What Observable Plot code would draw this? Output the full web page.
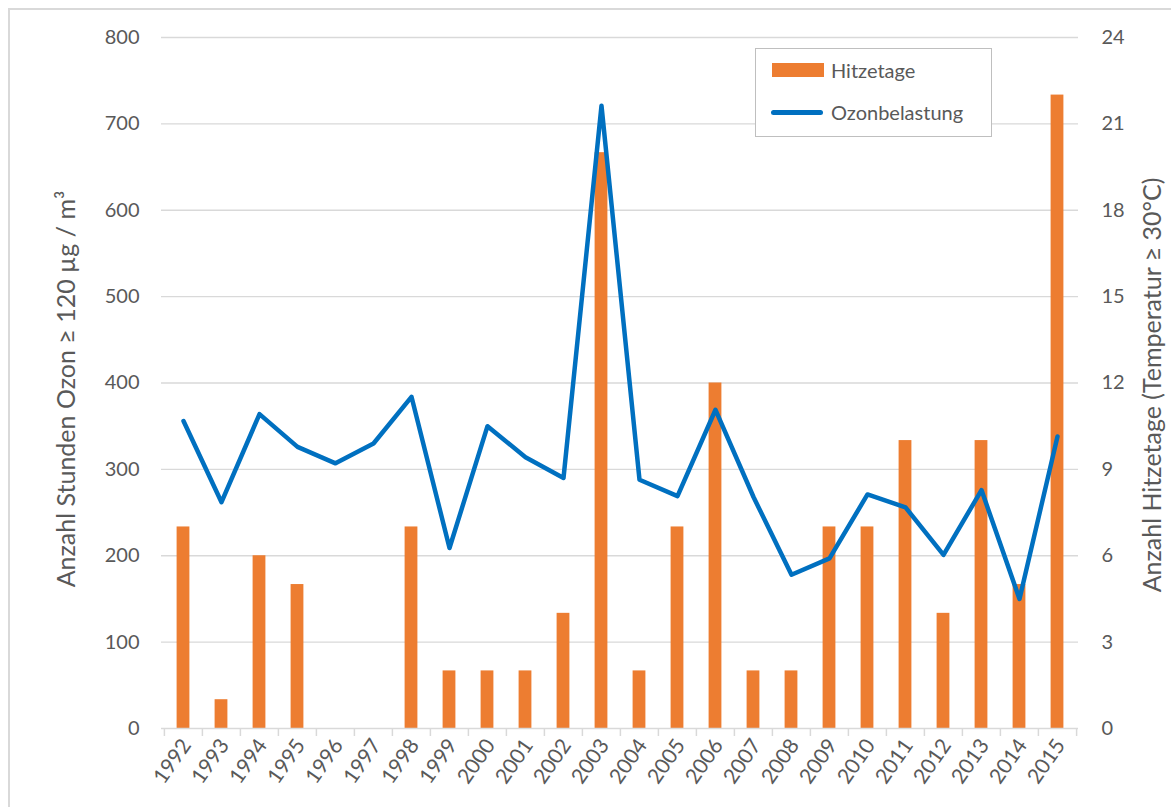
<!DOCTYPE html>
<html>
<head>
<meta charset="utf-8">
<script src="https://cdn.jsdelivr.net/npm/d3@7"></script>
<script src="https://cdn.jsdelivr.net/npm/@observablehq/plot@0.6"></script>
<style>
  html, body { margin: 0; padding: 0; background: #fff; }
  #wrap { position: relative; width: 1171px; height: 807px; overflow: hidden; font-family: Lato, "Open Sans", sans-serif; color: #595959; }
  #frame { position: absolute; left: 8px; top: 8px; width: 1200px; height: 900px; border: 2px solid #d9d9d9; box-sizing: border-box; pointer-events: none; }
  #legend { position: absolute; left: 755px; top: 48px; width: 237px; height: 89px; border: 1px solid #bfbfbf; background: #fff; box-sizing: border-box; }
  .lg-item { position: absolute; left: 0; display: flex; align-items: center; font-size: 20px; }
  .sw-bar { width: 52px; height: 14px; background: #ED7D31; margin-left: 16px; margin-right: 7px; }
  .sw-line { width: 52px; height: 5px; background: #0070C0; border-radius: 3px; margin-left: 15px; margin-right: 8px; }
</style>
</head>
<body>
<div id="wrap">
  <div id="chart"></div>
  <div id="frame"></div>
  <div id="legend">
    <div class="lg-item" style="top:9px"><div class="sw-bar"></div><span>Hitzetage</span></div>
    <div class="lg-item" style="top:51px"><div class="sw-line"></div><span>Ozonbelastung</span></div>
  </div>
</div>
<script>
const years = ["1992","1993","1994","1995","1996","1997","1998","1999","2000","2001","2002","2003","2004","2005","2006","2007","2008","2009","2010","2011","2012","2013","2014","2015"];
const hitzetage = [7, 1, 6, 5, 0, 0, 7, 2, 2, 2, 4, 20, 2, 7, 12, 2, 2, 7, 7, 10, 4, 10, 5, 22];
const ozonStunden = [356, 262, 364, 326, 307, 330, 384, 209, 350, 314, 290, 721, 288, 269, 369, 268, 178, 197, 271, 256, 201, 276, 150, 338];
const leftTicks = [0, 100, 200, 300, 400, 500, 600, 700, 800];
const leftMax = 800, rightMax = 24;
const leftTitle = "Anzahl Stunden Ozon ≥ 120 µg / m³";
const rightTitle = "Anzahl Hitzetage (Temperatur ≥ 30°C)";

const data = years.map((y, i) => ({year: y, hitze: hitzetage[i], ozon: ozonStunden[i]}));
const toLeft = v => v * leftMax / rightMax;

const gray = "#595959";
const bw = (1171 - 161 - 93) / years.length;

const chart = Plot.plot({
  width: 1171,
  height: 807,
  marginLeft: 161,
  marginRight: 93,
  marginTop: 37,
  marginBottom: 79,
  style: {fontFamily: "Lato, 'Open Sans', sans-serif", fontSize: "20px", color: gray, background: "transparent"},
  x: {type: "band", domain: years, padding: 0},
  y: {domain: [0, leftMax]},
  marks: [
    Plot.gridY(leftTicks.slice(1), {stroke: "#d9d9d9", strokeOpacity: 1, strokeWidth: 1.3}),
    Plot.axisY({anchor: "left", ticks: leftTicks, tickSize: 0, tickPadding: 22, label: null, fill: gray}),
    Plot.axisY({anchor: "right", ticks: leftTicks, tickSize: 0, tickPadding: 23, label: null, fill: gray, tickFormat: d => String(d * rightMax / leftMax)}),
    Plot.barY(data, {x: "year", y: d => toLeft(d.hitze), fill: "#ED7D31", insetLeft: 12.6, insetRight: 12.6}),
    Plot.ruleY([0], {stroke: "#d9d9d9", strokeWidth: 1.5}),
    Plot.ruleX(years, {x: d => d, y1: 0, y2: 0, dx: -bw / 2, insetBottom: -8, stroke: "#d9d9d9", strokeWidth: 1.5}),
    Plot.ruleX(years.slice(-1), {x: d => d, y1: 0, y2: 0, dx: bw / 2, insetBottom: -8, stroke: "#d9d9d9", strokeWidth: 1.5}),
    Plot.axisX({anchor: "bottom", tickSize: 0, tickPadding: 13, tickRotate: -55, label: null, fill: gray, dx: 3, fontSize: 21}),
    Plot.lineY(data, {x: "year", y: "ozon", stroke: "#0070C0", strokeWidth: 4.5, strokeLinejoin: "round", strokeLinecap: "round"}),
    Plot.text([leftTitle], {frameAnchor: "left", rotate: -90, dx: -95, dy: 6, lineAnchor: "middle", textAnchor: "middle", fill: gray, fontSize: 25}),
    Plot.text([rightTitle], {frameAnchor: "right", rotate: -90, dx: 74, dy: 2, lineAnchor: "middle", textAnchor: "middle", fill: gray, fontSize: 25})
  ]
});
document.getElementById("chart").appendChild(chart);
</script>
</body>
</html>
